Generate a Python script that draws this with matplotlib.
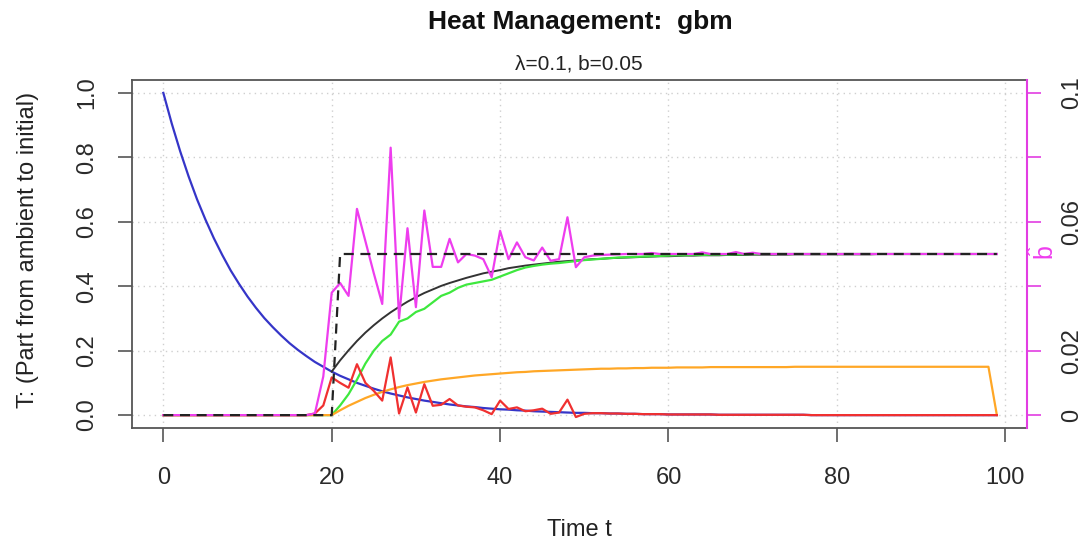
import numpy as np
import matplotlib
matplotlib.use("Agg")
import matplotlib.pyplot as plt

plt.rcParams["font.family"] = ["Liberation Sans", "DejaVu Sans"]
plt.rcParams["mathtext.fontset"] = "custom"
plt.rcParams["mathtext.rm"] = "Liberation Sans"
plt.rcParams["mathtext.it"] = "Liberation Sans:italic"

# time steps 0..99
time_t = np.arange(100)

# true temperature (part from ambient to initial)
temp_true = [
    1.000, 0.905, 0.819, 0.741, 0.670, 0.607, 0.549, 0.497, 0.449, 0.407,
    0.368, 0.333, 0.301, 0.273, 0.247, 0.223, 0.202, 0.183, 0.165, 0.150,
    0.135, 0.122, 0.111, 0.100, 0.091, 0.082, 0.074, 0.067, 0.061, 0.055,
    0.050, 0.045, 0.041, 0.037, 0.033, 0.030, 0.027, 0.025, 0.022, 0.020,
    0.018, 0.017, 0.015, 0.014, 0.012, 0.011, 0.010, 0.009, 0.008, 0.007,
    0.007, 0.006, 0.006, 0.005, 0.005, 0.004, 0.004, 0.003, 0.003, 0.003,
    0.002, 0.002, 0.002, 0.002, 0.002, 0.002, 0.001, 0.001, 0.001, 0.001,
    0.001, 0.001, 0.001, 0.001, 0.001, 0.001, 0.001, 0.000, 0.000, 0.000,
    0.000, 0.000, 0.000, 0.000, 0.000, 0.000, 0.000, 0.000, 0.000, 0.000,
    0.000, 0.000, 0.000, 0.000, 0.000, 0.000, 0.000, 0.000, 0.000, 0.000,
]

# estimated temperature (noisy while b is being learnt)
temp_est = [0.0] * 18 + [
    0.005, 0.030, 0.117, 0.100, 0.085, 0.158, 0.100, 0.075, 0.045, 0.179,
    0.005, 0.086, 0.008, 0.096, 0.029, 0.032, 0.050, 0.030, 0.026, 0.024,
    0.015, 0.003, 0.045, 0.019, 0.024, 0.012, 0.015, 0.020, 0.004, 0.008,
    0.048, -0.006, 0.004,
] + temp_true[51:]

# model response (black) from t=20 on
model_resp = [
    0.135, 0.170, 0.201, 0.230, 0.256, 0.279, 0.300, 0.319, 0.336, 0.352,
    0.366, 0.379, 0.390, 0.401, 0.410, 0.418, 0.426, 0.433, 0.440, 0.445,
    0.450, 0.456, 0.460, 0.464, 0.467, 0.470, 0.473, 0.476, 0.478, 0.480,
    0.482, 0.484, 0.485, 0.487, 0.488, 0.489, 0.490, 0.491, 0.492, 0.493,
    0.493, 0.494, 0.495, 0.495, 0.496, 0.496, 0.496, 0.497, 0.497, 0.497,
    0.498, 0.498, 0.498, 0.498, 0.498, 0.499, 0.499, 0.499, 0.499, 0.499,
    0.499, 0.499, 0.499, 0.499, 0.499, 0.500, 0.500, 0.500, 0.500, 0.500,
    0.500, 0.500, 0.500, 0.500, 0.500, 0.500, 0.500, 0.500, 0.500, 0.500,
]

# heating achieved (green)
heat_est = [0.0] * 21 + [
    0.030, 0.065, 0.110, 0.160, 0.200, 0.230, 0.250, 0.290, 0.300,
    0.320, 0.330, 0.350, 0.370, 0.380, 0.395, 0.405, 0.410, 0.415, 0.420,
    0.430, 0.440, 0.450, 0.458, 0.463, 0.467, 0.470, 0.472, 0.475, 0.478,
    0.481, 0.483, 0.485, 0.487, 0.489, 0.490, 0.491, 0.492, 0.493, 0.494,
    0.495, 0.496, 0.496, 0.497, 0.497, 0.498, 0.498, 0.498, 0.499, 0.499,
] + [0.500] * 30

# heating control (orange)
control = [0.0] * 21 + [
    0.015, 0.029, 0.041, 0.053, 0.063, 0.072, 0.080, 0.087, 0.093,
    0.098, 0.103, 0.107, 0.111, 0.114, 0.117, 0.120, 0.123, 0.125, 0.127,
    0.129, 0.131, 0.133, 0.134, 0.136, 0.137, 0.138, 0.139, 0.140, 0.141,
    0.142, 0.143, 0.144, 0.144, 0.145, 0.145, 0.146, 0.146, 0.147, 0.147,
    0.147, 0.148, 0.148, 0.148, 0.148, 0.149, 0.149, 0.149, 0.149, 0.149,
    0.149, 0.149, 0.149, 0.149, 0.149, 0.150, 0.150, 0.150, 0.150, 0.150,
    0.150, 0.150, 0.150, 0.150, 0.150, 0.150, 0.150, 0.150, 0.150, 0.150,
    0.150, 0.150, 0.150, 0.150, 0.150, 0.150, 0.150, 0.150, 0.150, 0.000,
]

# estimated b (right axis)
b_hat = [0.0] * 18 + [
    0.0005, 0.0120, 0.0380, 0.0410, 0.0370, 0.0640, 0.0540, 0.0440, 0.0345, 0.0830,
    0.0300, 0.0580, 0.0335, 0.0635, 0.0460, 0.0460, 0.0547, 0.0474, 0.0500, 0.0495,
    0.0484, 0.0428, 0.0572, 0.0484, 0.0536, 0.0490, 0.0480, 0.0520, 0.0479, 0.0484,
    0.0614, 0.0459, 0.0490, 0.0495, 0.0497, 0.0498, 0.0499, 0.0500, 0.0500, 0.0500,
    0.0503, 0.0500, 0.0500, 0.0500, 0.0500, 0.0500, 0.0505, 0.0500, 0.0500, 0.0500,
    0.0506, 0.0500, 0.0504, 0.0500, 0.0500, 0.0500, 0.0500, 0.0500, 0.0500, 0.0500,
    0.0500, 0.0500, 0.0500, 0.0500, 0.0500, 0.0500, 0.0500, 0.0500, 0.0500, 0.0500,
    0.0500, 0.0500, 0.0500, 0.0500, 0.0500, 0.0500, 0.0500, 0.0500, 0.0500, 0.0500,
    0.0500, 0.0500,
]

# true b (step at t=21)
b_true = [0.0] * 21 + [0.05] * 79

right_ticks = [0, 0.02, 0.04, 0.06, 0.08, 0.1]
right_labels = ["0", "0.02", "", "0.06", "", "0.1"]

W, H = 1084, 544
fig = plt.figure(figsize=(W / 100, H / 100), dpi=100)
ax = fig.add_axes([132 / W, 1 - 428 / H, (1027 - 132) / W, (428 - 80) / H])

lw = 1.6
ax.plot(time_t, temp_true, color="#3535c8", lw=lw)
ax.plot(time_t[20:], model_resp, color="#333333", lw=1.4)
ax.plot(time_t, heat_est, color="#3ee83e", lw=lw)
ax.plot(time_t, control, color="#ffa726", lw=lw)
ax.plot(time_t, temp_est, color="#f03030", lw=lw)

ax.set_xlim(-3.72, 102.58)
ax.set_ylim(-0.04, 1.04)
ax.set_xticks([0, 20, 40, 60, 80, 100])
ax.set_yticks([0.0, 0.2, 0.4, 0.6, 0.8, 1.0])
ax.set_yticklabels(["0.0", "0.2", "0.4", "0.6", "0.8", "1.0"])
ax.grid(True, color="#cfcfcf", linestyle=(0, (1, 3)), lw=1.0)
ax.set_axisbelow(True)

for s in ["left", "top", "bottom"]:
    ax.spines[s].set_color("#555555")
    ax.spines[s].set_linewidth(1.3)
ax.spines["right"].set_visible(False)

ax.tick_params(axis="both", direction="out", length=10, width=1.2, color="#555555",
               labelsize=17, labelcolor="#2a2a2a")
ax.tick_params(axis="x", pad=18)
ax.tick_params(axis="y", pad=14.5, labelrotation=90)
for lab in ax.get_yticklabels():
    lab.set_va("center")

# right axis for b
ax2 = ax.twinx()
ax2.plot(time_t, b_hat, color="#ee3dee", lw=lw)
ax2.plot(time_t, b_true, color="#222222", lw=lw, dashes=(4.5, 3))
ax2.set_ylim(-0.004, 0.104)
ax2.set_yticks(right_ticks)
ax2.set_yticklabels(right_labels)
for s in ["left", "top", "bottom"]:
    ax2.spines[s].set_visible(False)
ax2.spines["right"].set_color("#e23de2")
ax2.spines["right"].set_linewidth(1.5)
ax2.tick_params(axis="y", direction="out", length=10, width=1.2, color="#e23de2",
                labelsize=17, labelcolor="#2a2a2a", pad=14.5, labelrotation=90)
for lab in ax2.get_yticklabels():
    lab.set_va("center")

fig.text(580 / W, 1 - 22 / H, "Heat Management:  gbm", ha="center", va="center",
         fontsize=19, fontweight="bold", color="#111111")
fig.text(579 / W, 1 - 64 / H, "\u03bb=0.1, b=0.05", ha="center", va="center",
         fontsize=15, color="#222222")
fig.text(579.5 / W, 1 - 530 / H, "Time t", ha="center", va="center",
         fontsize=17, color="#222222")
fig.text(28 / W, 1 - 250 / H, "T: (Part from ambient to initial)", ha="center",
         va="center", rotation=90, fontsize=17, color="#222222")
fig.text(1044 / W, 1 - 253 / H, r"$\hat{\mathrm{b}}$", ha="center", va="center",
         rotation=90, fontsize=18, color="#ee3dee")

fig.savefig("out.png", dpi=100)
